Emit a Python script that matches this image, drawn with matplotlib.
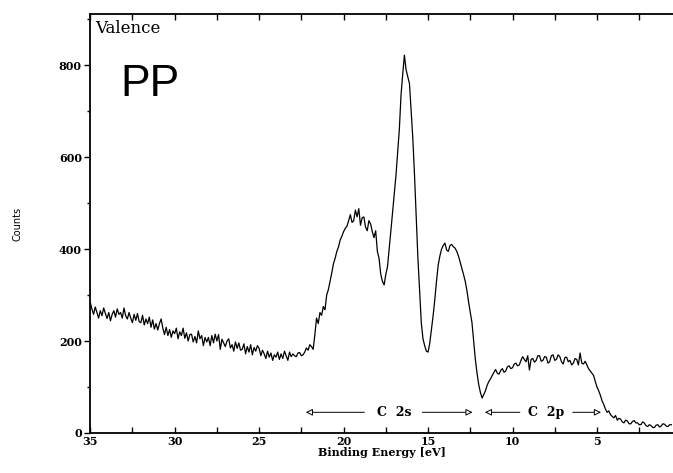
import numpy as np
import matplotlib
matplotlib.use("Agg")
import matplotlib.pyplot as plt
from matplotlib.ticker import MultipleLocator

# Binding energy grid (eV), 0.1 eV steps from 35.0 down to 0.6
energy = np.round(np.arange(35.0, 0.55, -0.1), 1)

counts = [
    285, 270, 258, 274, 262, 250, 266, 255, 272, 260,   # 35.0-34.1
    249, 262, 244, 258, 266, 252, 270, 258, 262, 250,   # 34.0-33.1
    272, 255, 248, 262, 250, 240, 258, 245, 260, 242,   # 33.0-32.1
    240, 256, 235, 248, 238, 252, 230, 246, 226, 238,   # 32.0-31.1
    224, 238, 248, 228, 214, 230, 212, 225, 208, 222,   # 31.0-30.1
    216, 228, 205, 220, 212, 228, 206, 218, 200, 214,   # 30.0-29.1
    215, 198, 210, 196, 222, 205, 212, 190, 208, 198,   # 29.0-28.1
    208, 190, 212, 196, 215, 200, 214, 182, 204, 196,   # 28.0-27.1
    188, 200, 205, 185, 192, 178, 198, 184, 196, 180,   # 27.0-26.1
    182, 194, 172, 188, 176, 192, 170, 186, 178, 190,   # 26.0-25.1
    184, 168, 180, 172, 162, 178, 165, 174, 158, 170,   # 25.0-24.1
    165, 176, 160, 172, 162, 178, 168, 158, 176, 166,   # 24.0-23.1
    172, 168, 166, 174, 175, 168, 170, 176, 185, 180,   # 23.0-22.1
    192, 188, 182, 214, 250, 238, 262, 256, 275, 268,   # 22.0-21.1
    300, 312, 330, 348, 368, 380, 395, 405, 420, 428,   # 21.0-20.1
    438, 445, 450, 462, 475, 458, 462, 485, 470, 488,   # 20.0-19.1
    452, 468, 470, 448, 440, 462, 455, 438, 425, 440,   # 19.0-18.1
    395, 380, 345, 330, 322, 345, 362, 400, 440, 480,   # 18.0-17.1
    520, 560, 610, 660, 735, 780, 822, 790, 775, 760,   # 17.0-16.1
    700, 640, 560, 470, 380, 310, 240, 205, 190, 178,   # 16.0-15.1
    176, 195, 225, 255, 290, 330, 365, 385, 400, 408,   # 15.0-14.1
    413, 398, 395, 408, 410, 405, 402, 395, 385, 372,   # 14.0-13.1
    358, 345, 330, 310, 285, 262, 240, 200, 160, 130,   # 13.0-12.1
    105, 88, 76, 84, 92, 104, 112, 118, 125, 132,       # 12.0-11.1
    138, 130, 128, 136, 140, 132, 135, 144, 146, 140,   # 11.0-10.1
    142, 150, 152, 146, 148, 158, 166, 160, 155, 168,   # 10.0-9.1
    137, 160, 162, 154, 158, 168, 168, 156, 158, 166,   # 9.0-8.1
    165, 152, 155, 168, 170, 158, 160, 170, 166, 155,   # 8.0-7.1
    150, 164, 165, 155, 158, 148, 152, 162, 160, 148,   # 7.0-6.1
    174, 152, 150, 156, 148, 140, 135, 130, 125, 112,   # 6.0-5.1
    100, 92, 82, 70, 62, 52, 45, 48, 40, 36,            # 5.0-4.1
    33, 38, 28, 32, 30, 24, 22, 28, 26, 20,             # 4.0-3.1
    20, 25, 27, 22, 22, 18, 18, 24, 22, 16,             # 3.0-2.1
    14, 18, 16, 12, 12, 17, 18, 13, 15, 20,             # 2.0-1.1
    19, 15, 14, 18, 18,                                 # 1.0-0.6
]

x_ticks = [35, 30, 25, 20, 15, 10, 5]
y_ticks = [0, 200, 400, 600, 800]

fig = plt.figure(figsize=(6.73, 4.73), dpi=100)
ax = fig.add_axes([0.134, 0.0846, 0.866, 0.8854])

ax.plot(energy[:len(counts)], counts, color="black", lw=0.9)

ax.set_xlim(35, 0.5)
ax.set_ylim(0, 911)

ax.set_xticks(x_ticks)
ax.set_yticks(y_ticks)
ax.xaxis.set_minor_locator(MultipleLocator(2.5))
ax.yaxis.set_minor_locator(MultipleLocator(100))

serif_bold = dict(family="DejaVu Serif", weight="bold", size=8)
ax.set_xticklabels([str(t) for t in x_ticks], **serif_bold)
ax.set_yticklabels([str(t) for t in y_ticks], **serif_bold)

ax.tick_params(axis="x", which="both", direction="in", top=True, length=4, width=1)
ax.tick_params(axis="x", which="major", pad=2)
ax.tick_params(axis="y", which="major", direction="out", length=4, width=1, pad=2)
ax.tick_params(axis="y", which="minor", direction="out", length=2, width=1)

ax.spines["right"].set_visible(False)
for s in ["left", "bottom", "top"]:
    ax.spines[s].set_linewidth(1.3)

ax.set_xlabel("Binding Energy [eV]", family="DejaVu Serif", weight="bold", size=8, labelpad=0)
ax.set_ylabel("Counts", family=["Liberation Sans Narrow", "DejaVu Sans"], size=7, labelpad=26)

ax.text(34.7, 880, "Valence", family="DejaVu Serif", size=12, va="center", ha="left")
ax.text(33.2, 757, "PP", family=["Liberation Sans", "DejaVu Sans"], size=32, va="center", ha="left")

# C 2s / C 2p region arrows
arrow_y = 45
ap = dict(arrowstyle="-|>", fc="white", ec="black", lw=0.7, mutation_scale=10)
ax.annotate("", xy=(22.4, arrow_y), xytext=(18.6, arrow_y), arrowprops=ap)
ax.annotate("", xy=(12.2, arrow_y), xytext=(15.5, arrow_y), arrowprops=ap)
ax.text(17.0, arrow_y, "C  2s", family="DejaVu Serif", weight="bold", size=9, ha="center", va="center")
ax.annotate("", xy=(11.8, arrow_y), xytext=(9.4, arrow_y), arrowprops=ap)
ax.annotate("", xy=(4.6, arrow_y), xytext=(6.6, arrow_y), arrowprops=ap)
ax.text(8.0, arrow_y, "C  2p", family="DejaVu Serif", weight="bold", size=9, ha="center", va="center")

fig.savefig("out.png", dpi=100)
